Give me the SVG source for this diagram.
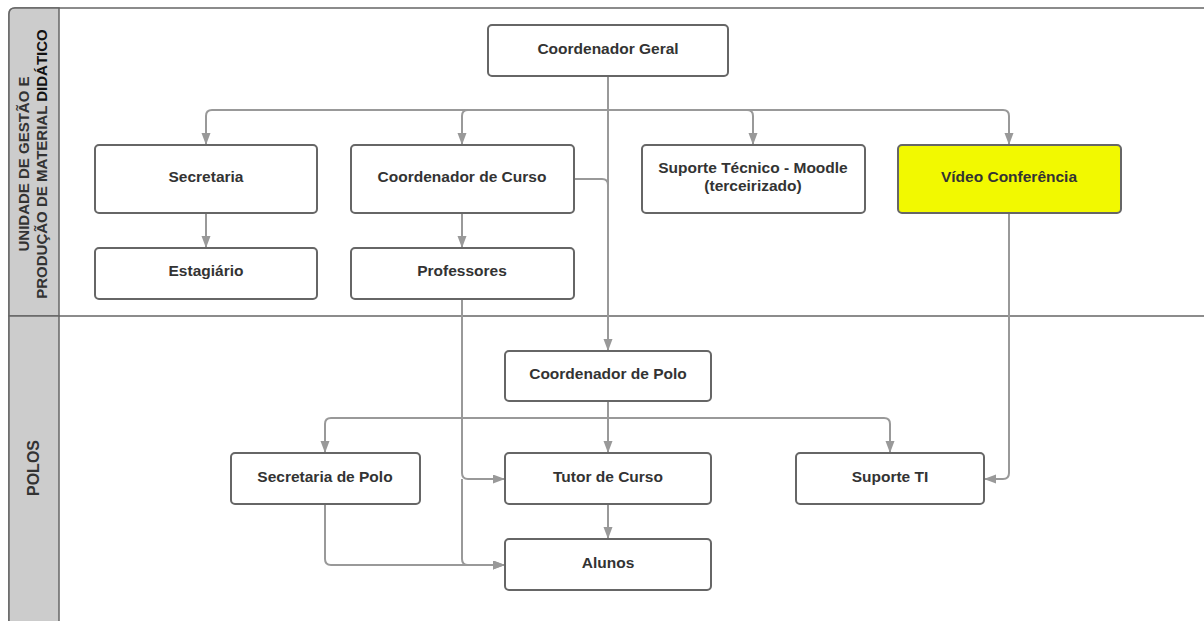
<svg xmlns="http://www.w3.org/2000/svg" width="1204" height="621" viewBox="0 0 1204 621">
  <style>
    .lane { fill: #ffffff; stroke: #666666; stroke-width: 1.5; }
    .head { fill: #cccccc; stroke: #666666; stroke-width: 1.5; }
    .headtxt { font-family: "Liberation Sans", Arial, sans-serif; font-weight: bold; fill: #333333; }
    .box { fill: #ffffff; stroke: #666666; stroke-width: 2; }
    .hl { fill: #f2f900; }
    .lbl { font-family: "Liberation Sans", Arial, sans-serif; font-weight: bold; font-size: 15.5px; fill: #333333; text-anchor: middle; }
    .edge { fill: none; stroke: #999999; stroke-width: 2; }
  </style>
  <defs>
    <marker id="arrow" markerWidth="12" markerHeight="10" refX="12" refY="4.5" orient="auto" markerUnits="userSpaceOnUse">
      <path d="M0,0 L12,4.5 L0,9 Z" fill="#999999"/>
    </marker>
  </defs>

  <rect width="1204" height="621" fill="#ffffff"/>

  <!-- swimlanes -->
  <g id="lanes">
    <path class="lane" d="M9,621 V14 Q9,8 15,8 H1210"/>
    <path class="head" d="M9,316 V14 Q9,8 15,8 H59 V316 Z"/>
    <rect class="head" x="9" y="316" width="50" height="310"/>
    <line x1="59" y1="316" x2="1210" y2="316" stroke="#666666" stroke-width="1.5"/>
    <text class="headtxt" font-size="15" text-anchor="middle" transform="translate(29,164) rotate(-90)">UNIDADE DE GESTÃO E</text>
    <text class="headtxt" font-size="15" text-anchor="middle" transform="translate(47,164) rotate(-90)">PRODUÇÃO DE MATERIAL <tspan fill="#111111">DIDÁTICO</tspan></text>
    <text class="headtxt" font-size="16" text-anchor="middle" transform="translate(39,468) rotate(-90)">POLOS</text>
  </g>

  <!-- connectors -->
  <g id="connectors">
    <!-- Coordenador Geral to top-lane units -->
    <path class="edge" d="M608,76 V110"/>
    <path class="edge" d="M608,110 H212 Q206,110 206,116 V145" marker-end="url(#arrow)"/>
    <path class="edge" d="M608,110 H468 Q462,110 462,116 V145" marker-end="url(#arrow)"/>
    <path class="edge" d="M608,110 H747 Q753,110 753,116 V145" marker-end="url(#arrow)"/>
    <path class="edge" d="M608,110 H1003 Q1009,110 1009,116 V145" marker-end="url(#arrow)"/>
    <!-- Coordenador Geral / Coordenador de Curso to Coordenador de Polo -->
    <path class="edge" d="M608,110 V351" marker-end="url(#arrow)"/>
    <path class="edge" d="M574,179 H602 Q608,179 608,185"/>
    <!-- top-lane vertical links -->
    <path class="edge" d="M206,213 V248" marker-end="url(#arrow)"/>
    <path class="edge" d="M462,213 V248" marker-end="url(#arrow)"/>
    <!-- Professores to Tutor de Curso and Alunos -->
    <path class="edge" d="M462,299 V473 Q462,479 468,479 H505" marker-end="url(#arrow)"/>
    <path class="edge" d="M462,479 V559 Q462,565 468,565 H505" marker-end="url(#arrow)"/>
    <!-- Coordenador de Polo branches -->
    <path class="edge" d="M608,401 V418"/>
    <path class="edge" d="M608,418 H331 Q325,418 325,424 V453" marker-end="url(#arrow)"/>
    <path class="edge" d="M608,418 V453" marker-end="url(#arrow)"/>
    <path class="edge" d="M608,418 H884 Q890,418 890,424 V453" marker-end="url(#arrow)"/>
    <!-- Secretaria de Polo to Alunos -->
    <path class="edge" d="M325,504 V559 Q325,565 331,565 H505" marker-end="url(#arrow)"/>
    <!-- Tutor de Curso to Alunos -->
    <path class="edge" d="M608,504 V539" marker-end="url(#arrow)"/>
    <!-- Vídeo Conferência to Suporte TI -->
    <path class="edge" d="M1009,213 V473 Q1009,479 1003,479 H984" marker-end="url(#arrow)"/>
  </g>

  <g id="coordenador-geral">
    <rect class="box" x="488" y="25" width="240" height="51" rx="4"/>
    <text class="lbl" x="608" y="53.5">Coordenador Geral</text>
  </g>
  <g id="secretaria">
    <rect class="box" x="95" y="145" width="222" height="68" rx="4"/>
    <text class="lbl" x="206" y="181.5">Secretaria</text>
  </g>
  <g id="coordenador-curso">
    <rect class="box" x="351" y="145" width="223" height="68" rx="4"/>
    <text class="lbl" x="462" y="181.5">Coordenador de Curso</text>
  </g>
  <g id="suporte-tecnico">
    <rect class="box" x="642" y="145" width="223" height="68" rx="4"/>
    <text class="lbl" x="753" y="172.5">Suporte Técnico - Moodle</text>
    <text class="lbl" x="753" y="190.5">(terceirizado)</text>
  </g>
  <g id="video-conferencia">
    <rect class="box hl" x="898" y="145" width="223" height="68" rx="4"/>
    <text class="lbl" x="1009" y="181.5">Vídeo Conferência</text>
  </g>
  <g id="estagiario">
    <rect class="box" x="95" y="248" width="222" height="51" rx="4"/>
    <text class="lbl" x="206" y="275.5">Estagiário</text>
  </g>
  <g id="professores">
    <rect class="box" x="351" y="248" width="223" height="51" rx="4"/>
    <text class="lbl" x="462" y="275.5">Professores</text>
  </g>
  <g id="coordenador-polo">
    <rect class="box" x="505" y="351" width="206" height="50" rx="4"/>
    <text class="lbl" x="608" y="378.5">Coordenador de Polo</text>
  </g>
  <g id="secretaria-polo">
    <rect class="box" x="231" y="453" width="189" height="51" rx="4"/>
    <text class="lbl" x="325" y="481.5">Secretaria de Polo</text>
  </g>
  <g id="tutor-curso">
    <rect class="box" x="505" y="453" width="206" height="51" rx="4"/>
    <text class="lbl" x="608" y="481.5">Tutor de Curso</text>
  </g>
  <g id="suporte-ti">
    <rect class="box" x="796" y="453" width="188" height="51" rx="4"/>
    <text class="lbl" x="890" y="481.5">Suporte TI</text>
  </g>
  <g id="alunos">
    <rect class="box" x="505" y="539" width="206" height="51" rx="4"/>
    <text class="lbl" x="608" y="567.5">Alunos</text>
  </g>
</svg>
